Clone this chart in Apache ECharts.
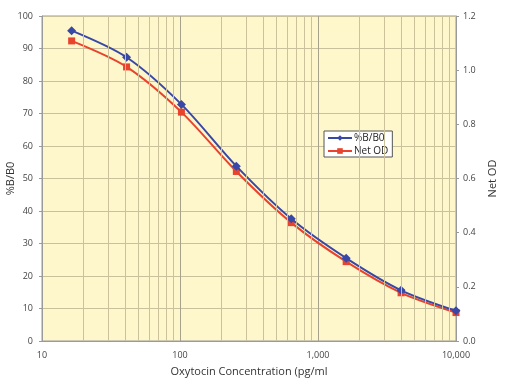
<!DOCTYPE html>
<html>
<head>
<meta charset="utf-8">
<script src="https://cdn.jsdelivr.net/npm/echarts@6/dist/echarts.min.js"></script>
<style>
html,body{margin:0;padding:0;background:#fff;}
#chart{width:508px;height:387px;}
</style>
</head>
<body>
<div id="chart"></div>
<script>
// Data
var concentrations = [16.4, 41, 102.4, 256, 640, 1600, 4000, 10000];
var percentBB0 = [95.5, 87.3, 72.8, 53.8, 37.6, 25.5, 15.6, 9.3];
var netOD = [1.108, 1.012, 0.845, 0.626, 0.437, 0.293, 0.178, 0.105];
var minorGridX = [20,30,40,50,60,70,80,90,200,300,400,500,600,700,800,900,2000,3000,4000,5000,6000,7000,8000,9000];
var seriesNames = ['%B/B0', 'Net OD'];

var FONT = '"Open Sans", "Noto Sans", sans-serif';
var chart = echarts.init(document.getElementById('chart'), null, {renderer: 'canvas'});

function pairs(xs, ys) { return xs.map(function (x, i) { return [x, ys[i]]; }); }

var option = {
  animation: false,
  textStyle: {fontFamily: FONT},
  grid: {
    left: 42, right: 52, top: 16, bottom: 46,
    containLabel: false, outerBoundsMode: 'none',
    show: true, backgroundColor: '#fff7cc', borderColor: '#9a9a9a', borderWidth: 1
  },
  legend: {
    data: seriesNames,
    orient: 'vertical',
    left: 324, top: 131,
    itemWidth: 24, itemHeight: 7, itemGap: 3,
    padding: [2, 4, 1, 3],
    backgroundColor: '#ffffff',
    borderColor: '#555555', borderWidth: 1, borderRadius: 0,
    textStyle: {fontFamily: FONT, fontSize: 10, color: '#222', padding: [0, 0, 0, -3]}
  },
  xAxis: {
    type: 'log', logBase: 10, min: 10, max: 10000,
    name: 'Oxytocin Concentration (pg/ml',
    nameLocation: 'middle', nameGap: 25, nameMoveOverlap: false,
    nameTextStyle: {fontFamily: FONT, fontSize: 11, color: '#333'},
    axisLine: {lineStyle: {color: '#9a9a9a'}},
    axisTick: {show: false},
    axisLabel: {fontFamily: FONT, fontSize: 9, color: '#444', margin: 10,
      formatter: function (v) { return Math.round(v).toLocaleString('en-US'); }},
    splitLine: {show: true, lineStyle: {color: '#a8a28c', width: 1}}
  },
  yAxis: [
    {
      type: 'value', min: 0, max: 100, interval: 10,
      name: '%B/B0', nameLocation: 'middle', nameGap: 26, nameRotate: 90, nameMoveOverlap: false,
      nameTextStyle: {fontFamily: FONT, fontSize: 11, color: '#333'},
      axisLine: {show: true, lineStyle: {color: '#9a9a9a'}},
      axisTick: {show: true, length: 3, lineStyle: {color: '#9a9a9a'}},
      axisLabel: {fontFamily: FONT, fontSize: 9, color: '#444', margin: 9},
      splitLine: {show: true, lineStyle: {color: '#c9c09c', width: 1}}
    },
    {
      type: 'value', min: 0, max: 1.2, interval: 0.2,
      name: 'Net OD', nameLocation: 'middle', nameGap: 31, nameRotate: 90, nameMoveOverlap: false,
      nameTextStyle: {fontFamily: FONT, fontSize: 11, color: '#333'},
      axisLine: {show: true, lineStyle: {color: '#9a9a9a'}},
      axisTick: {show: true, length: 3, lineStyle: {color: '#9a9a9a'}},
      axisLabel: {fontFamily: FONT, fontSize: 9, color: '#444', margin: 7,
        formatter: function (v) { return v.toFixed(1); }},
      splitLine: {show: false}
    }
  ],
  series: [
    {
      name: 'gridMinor', type: 'line', data: [], silent: true, z: 1,
      markLine: {
        silent: true, symbol: 'none', animation: false,
        label: {show: false},
        lineStyle: {color: '#cbc29c', width: 1, type: 'solid'},
        data: minorGridX.map(function (v) { return {xAxis: v}; })
      }
    },
    {
      name: seriesNames[0], type: 'line', yAxisIndex: 0,
      data: pairs(concentrations, percentBB0),
      smooth: 0.3, symbol: 'diamond', symbolSize: 9,
      itemStyle: {color: '#3848a6'},
      lineStyle: {color: '#3848a6', width: 2}, z: 4
    },
    {
      name: seriesNames[1], type: 'line', yAxisIndex: 1,
      data: pairs(concentrations, netOD),
      smooth: 0.3, symbol: 'rect', symbolSize: 7,
      itemStyle: {color: '#e8432c'},
      lineStyle: {color: '#e8432c', width: 2}, z: 3
    }
  ]
};
chart.setOption(option);
</script>
</body>
</html>
